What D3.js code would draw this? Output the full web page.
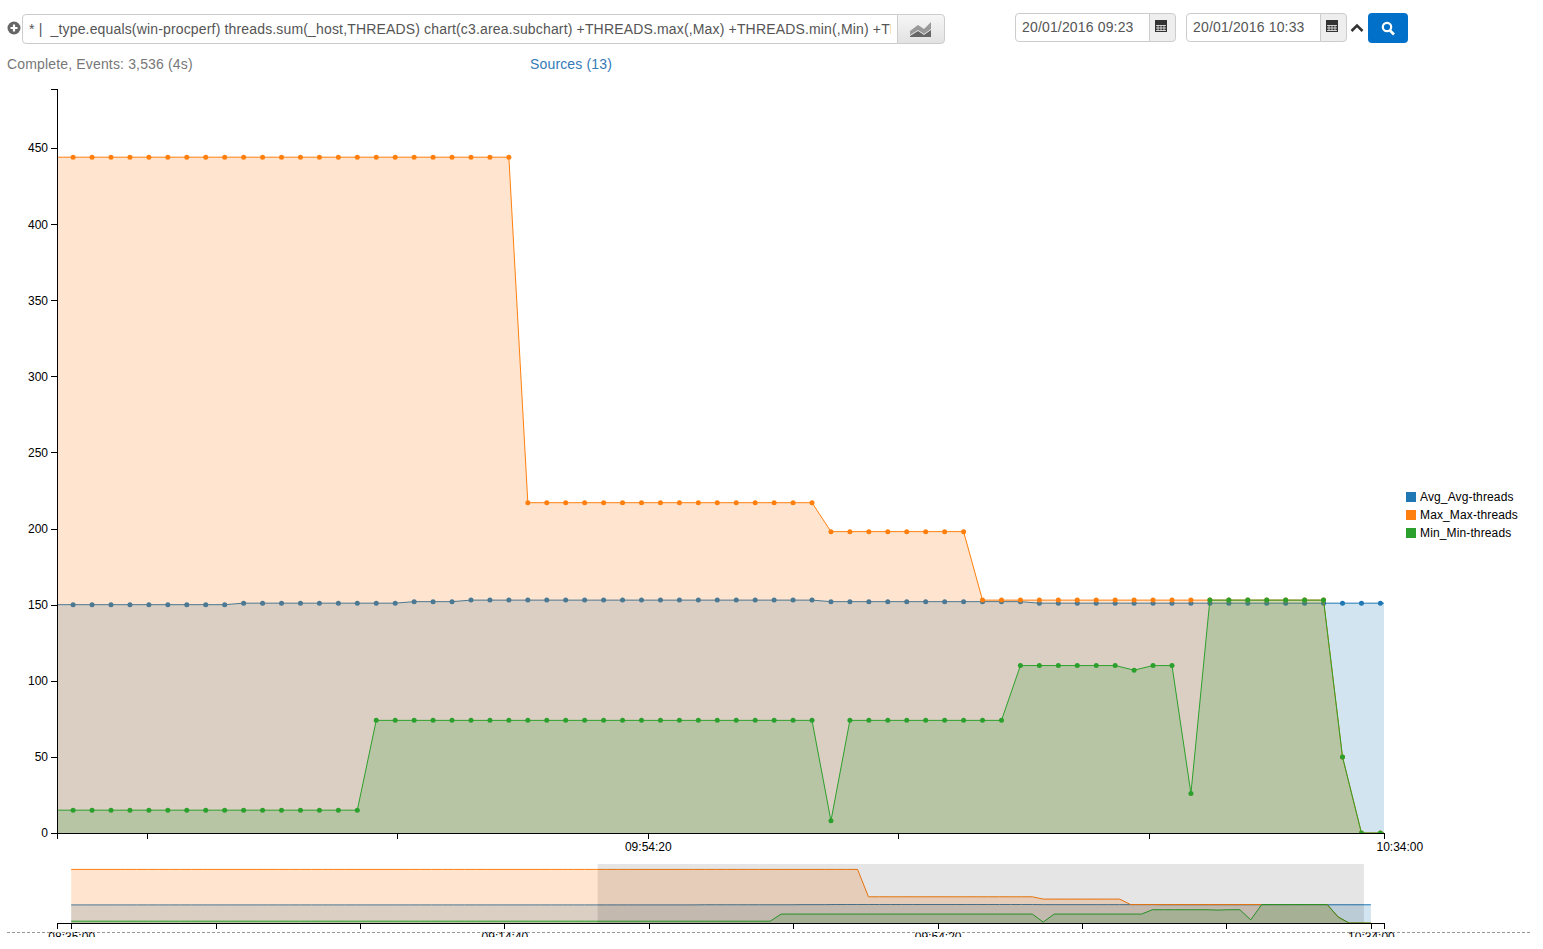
<!DOCTYPE html>
<html>
<head>
<meta charset="utf-8">
<script src="https://d3js.org/d3.v7.min.js"></script>
<style>
  html, body { margin: 0; padding: 0; background: #fff; overflow: hidden; }
  body { width: 1543px; height: 949px; position: relative; font-family: "Liberation Sans", Arial, sans-serif; font-size: 14px; color: #555; letter-spacing: 0.16px; }
  .abs { position: absolute; box-sizing: border-box; }
  .box { border: 1px solid #ccc; background: #fff; white-space: pre; overflow: hidden; line-height: 28px; }
  .addon { border: 1px solid #ccc; background: #eee; }
  svg text { font-family: "Liberation Sans", Arial, sans-serif; font-size: 12px; fill: #000; letter-spacing: 0; }
  .legend-label { letter-spacing: 0.13px; }
  .axis path, .axis line { stroke: #000; fill: none; shape-rendering: crispEdges; }
  .line { fill: none; stroke-width: 1px; }
  .area { stroke: none; opacity: 0.2; }
</style>
</head>
<body>
<div class="abs" style="left:7px;top:21px;width:14px;height:14px">
  <svg width="14" height="14"><circle cx="7" cy="7" r="6.5" fill="#666"></circle><path d="M7 3.5v7M3.5 7h7" stroke="#fff" stroke-width="2.2"></path></svg>
</div>
<div class="abs box" style="left:22px;top:14px;width:876px;height:30px;padding-left:6px;padding-right:6px;border-radius:4px 0 0 4px"><div style="overflow:hidden">* |  _type.equals(win-procperf) threads.sum(_host,THREADS) chart(c3.area.subchart) +THREADS.max(,Max) +THREADS.min(,Min) +THREADS.avg(,Avg)</div></div>
<div class="abs addon" style="left:897px;top:14px;width:48px;height:30px;border-radius:0 4px 4px 0;background:linear-gradient(#f6f6f6,#e2e2e2)">
  <svg width="46" height="28"><path d="M12 16 L20 10 L26 14 L33 7 V14 L26 19 L20 15 L12 20 Z" fill="#999"></path><path d="M12 21 L20 16 L26 20 L33 15 V22 H12 Z" fill="#666"></path></svg>
</div>
<div class="abs box" style="left:1015px;top:13px;width:135px;height:29px;padding-left:6px;border-radius:4px 0 0 4px;line-height:27px">20/01/2016 09:23</div>
<div class="abs addon" style="left:1149px;top:13px;width:27px;height:29px;border-radius:0 4px 4px 0">
  <svg width="25" height="27"><rect x="5" y="6" width="12" height="12" fill="#333"></rect><path d="M6 11.5h10M6 14h10M6 16.5h10M8 11v6M11 11v6M14 11v6" stroke="#eee" stroke-width="0.8"></path></svg>
</div>
<div class="abs box" style="left:1186px;top:13px;width:135px;height:29px;padding-left:6px;border-radius:4px 0 0 4px;line-height:27px">20/01/2016 10:33</div>
<div class="abs addon" style="left:1320px;top:13px;width:27px;height:29px;border-radius:0 4px 4px 0">
  <svg width="25" height="27"><rect x="5" y="6" width="12" height="12" fill="#333"></rect><path d="M6 11.5h10M6 14h10M6 16.5h10M8 11v6M11 11v6M14 11v6" stroke="#eee" stroke-width="0.8"></path></svg>
</div>
<div class="abs" style="left:1350px;top:21px;width:14px;height:12px">
  <svg width="14" height="12"><path d="M1.5 9 L7 3.5 L12.5 9" fill="none" stroke="#333" stroke-width="2.6"></path></svg>
</div>
<div class="abs" style="left:1368px;top:13px;width:40px;height:30px;border-radius:4px;background:#0070c9">
  <svg width="40" height="30"><circle cx="19" cy="14" r="4.2" fill="none" stroke="#fff" stroke-width="2.2"></circle><path d="M22 17.5 L26 21.5" stroke="#fff" stroke-width="2.6"></path></svg>
</div>
<div class="abs" style="left:7px;top:56px;color:#777">Complete, Events: 3,536 (4s)</div>
<div class="abs" style="left:530px;top:56px;color:#337ab7">Sources (13)</div>
<svg id="chart" class="abs" style="left:0;top:0" width="1543" height="937"></svg>
<div class="abs" style="left:7px;top:932px;width:1523px;height:0;border-top:1px dashed #999"></div>

<script>
// one sample per minute, 08:35 to 10:34
const seriesNames = ['Avg_Avg-threads', 'Max_Max-threads', 'Min_Min-threads']
const seriesColors = ['#1f77b4', '#ff7f0e', '#2ca02c']

const threadsAvg = [
  150, 150, 150, 150, 150, 150, 150, 150, 150, 150,
  150, 150, 150, 150, 150, 150, 150, 150, 150, 150,
  150, 150, 150, 150, 150, 150, 150, 150, 150, 150,
  150, 150, 150, 150, 150, 150, 150, 150, 150, 150,
  150, 150, 150, 150, 150, 150, 150, 150, 150, 150,
  150, 150, 150, 150, 150, 150, 150, 150, 151, 151,
  151, 151, 151, 151, 151, 151, 151, 152, 152, 152,
  153, 153, 153, 153, 153, 153, 153, 153, 153, 153,
  153, 153, 153, 153, 153, 153, 153, 153, 153, 152,
  152, 152, 152, 152, 152, 152, 152, 152, 152, 152,
  151, 151, 151, 151, 151, 151, 151, 151, 151, 151,
  151, 151, 151, 151, 151, 151, 151, 151, 151, 151
]
const threadsMax = [
  444, 444, 444, 444, 444, 444, 444, 444, 444, 444,
  444, 444, 444, 444, 444, 444, 444, 444, 444, 444,
  444, 444, 444, 444, 444, 444, 444, 444, 444, 444,
  444, 444, 444, 444, 444, 444, 444, 444, 444, 444,
  444, 444, 444, 444, 444, 444, 444, 444, 444, 444,
  444, 444, 444, 444, 444, 444, 444, 444, 444, 444,
  444, 444, 444, 444, 444, 444, 444, 444, 444, 444,
  444, 444, 444, 217, 217, 217, 217, 217, 217, 217,
  217, 217, 217, 217, 217, 217, 217, 217, 217, 198,
  198, 198, 198, 198, 198, 198, 198, 153, 153, 153,
  153, 153, 153, 153, 153, 153, 153, 153, 153, 153,
  153, 153, 153, 153, 153, 153, 50, 0, 0, 0
]
const threadsMin = [
  15, 15, 15, 15, 15, 15, 15, 15, 15, 15,
  15, 15, 15, 15, 15, 15, 15, 15, 15, 15,
  15, 15, 15, 15, 15, 15, 15, 15, 15, 15,
  15, 15, 15, 15, 15, 15, 15, 15, 15, 15,
  15, 15, 15, 15, 15, 15, 15, 15, 15, 15,
  15, 15, 15, 15, 15, 15, 15, 15, 15, 15,
  15, 15, 15, 15, 15, 74, 74, 74, 74, 74,
  74, 74, 74, 74, 74, 74, 74, 74, 74, 74,
  74, 74, 74, 74, 74, 74, 74, 74, 74, 8,
  74, 74, 74, 74, 74, 74, 74, 74, 74, 110,
  110, 110, 110, 110, 110, 107, 110, 110, 26, 153,
  153, 153, 153, 153, 153, 153, 50, 0, 0, 0
]
const allSeries = [threadsAvg, threadsMax, threadsMin]

const yTicks = [0, 50, 100, 150, 200, 250, 300, 350, 400, 450]
const xTickLabels = ['08:35:00', '08:48:13', '09:01:26', '09:14:40', '09:27:53', '09:41:06', '09:54:20', '10:07:33', '10:20:46', '10:34:00']
const mainLabelled = ['09:54:20', '10:34:00']
const subLabelled = ['08:35:00', '09:14:40', '09:54:20', '10:34:00']

const startTime = new Date(2016, 0, 20, 8, 35)
const minute = m => new Date(+startTime + m * 60000)
const times = threadsAvg.map((_, i) => minute(i))
const parseTick = d3.timeParse('%H:%M:%S')
const tickTime = s => {
  const t = parseTick(s)
  return new Date(2016, 0, 20, t.getHours(), t.getMinutes(), t.getSeconds())
}
const fmt = d3.timeFormat('%H:%M:%S')

const left = 57
const right = 1384

const x = d3.scaleTime().domain([minute(48.15), minute(118.19)]).range([left, right])
const y = d3.scaleLinear().domain([0, 488.8]).range([833, 89])
const xSub = d3.scaleTime().domain([minute(-1.3), minute(120.2)]).range([left, right])
const ySub = d3.scaleLinear().domain([0, 488.8]).range([923, 864])

const svg = d3.select('#chart')

svg.append('defs').append('clipPath').attr('id', 'plot-clip')
  .append('rect')
  .attr('x', left).attr('y', 80)
  .attr('width', right - left).attr('height', 833 - 80)

const plot = svg.append('g').attr('clip-path', 'url(#plot-clip)')
const sub = svg.append('g')

allSeries.forEach((values, s) => {
  const color = seriesColors[s]
  const group = plot.append('g')

  group.append('path')
    .attr('class', 'area')
    .attr('fill', color)
    .attr('d', d3.area().x((d, i) => x(times[i])).y0(y(0)).y1(d => y(d))(values))
  group.append('path')
    .attr('class', 'line')
    .attr('stroke', color)
    .attr('d', d3.line().x((d, i) => x(times[i])).y(d => y(d))(values))
  group.selectAll('circle')
    .data(values)
    .enter()
    .append('circle')
    .attr('cx', (d, i) => x(times[i]))
    .attr('cy', d => y(d))
    .attr('r', 2.5)
    .attr('fill', color)

  const subGroup = sub.append('g')
  subGroup.append('path')
    .attr('class', 'area')
    .attr('fill', color)
    .attr('d', d3.area().x((d, i) => xSub(times[i])).y0(ySub(0)).y1(d => ySub(d))(values))
  subGroup.append('path')
    .attr('class', 'line')
    .attr('stroke', color)
    .attr('d', d3.line().x((d, i) => xSub(times[i])).y(d => ySub(d))(values))
})

// the brush selection over the subchart
svg.append('rect')
  .attr('x', xSub(minute(48.2)))
  .attr('y', 864)
  .attr('width', xSub(minute(118.36)) - xSub(minute(48.2)))
  .attr('height', 59)
  .attr('fill', '#000')
  .attr('opacity', 0.1)

svg.append('g')
  .attr('class', 'axis')
  .attr('transform', `translate(${left},0)`)
  .call(d3.axisLeft(y).tickValues(yTicks).tickFormat(d3.format('d')))

const mainAxis = svg.append('g')
  .attr('class', 'axis')
  .attr('transform', 'translate(0,833)')
  .call(d3.axisBottom(x)
    .tickValues(xTickLabels.slice(3).map(tickTime))
    .tickFormat(d => (mainLabelled.includes(fmt(d)) ? fmt(d) : '')))
// the last label sits past the end of the axis, with no tick of its own
mainAxis.selectAll('.tick').filter(d => +d > +x.domain()[1]).select('line').remove()

svg.append('g')
  .attr('class', 'axis')
  .attr('transform', 'translate(0,923)')
  .call(d3.axisBottom(xSub)
    .tickValues(xTickLabels.map(tickTime))
    .tickFormat(d => (subLabelled.includes(fmt(d)) ? fmt(d) : '')))

const legend = svg.append('g')
  .selectAll('g')
  .data(seriesNames)
  .enter()
  .append('g')
  .attr('transform', (d, i) => `translate(1406,${492 + i * 18})`)
legend.append('rect')
  .attr('width', 10).attr('height', 10)
  .attr('fill', (d, i) => seriesColors[i])
legend.append('text')
  .attr('class', 'legend-label')
  .attr('x', 14).attr('y', 9)
  .text(d => d)
</script>
</body>
</html>
